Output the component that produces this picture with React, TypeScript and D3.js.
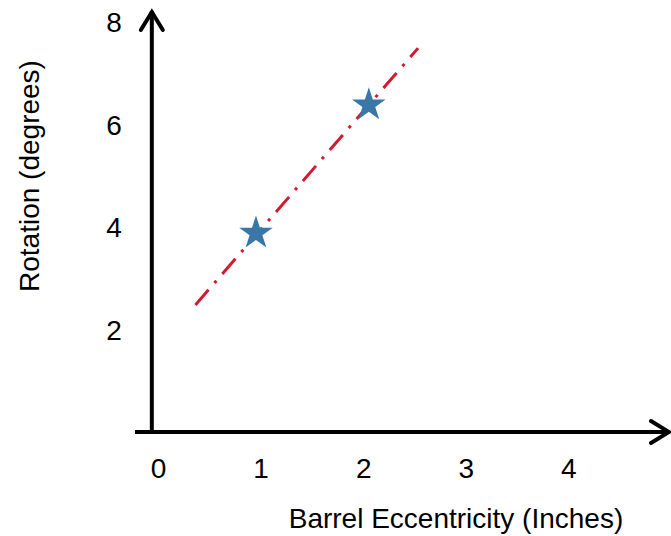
import React, { useEffect, useRef } from "react";
import * as d3 from "d3";

// measured points (eccentricity in inches, rotation in degrees)
const eccentricity = [0.95, 2.05];
const rotation = [3.88, 6.38];
// dash-dot fit line end points
const fitX = [0.36, 2.53];
const fitY = [2.48, 7.49];
const xTicks = [0, 1, 2, 3, 4];
const yTicks = [2, 4, 6, 8];

const width = 671;
const height = 536;

const App = () => {
  const ref = useRef<SVGGElement | null>(null);

  useEffect(() => {
    const g = d3.select(ref.current);
    g.selectAll("*").remove();

    const x = d3.scaleLinear().domain([0, 5]).range([158.5, 671.5]);
    const y = d3.scaleLinear().domain([0, 8]).range([432, 22]);
    const font = "Liberation Sans, Arial, sans-serif";
    const fs = 28;

    const axisX = x(-0.065);
    const axisY = y(0);

    // axes
    g.append("line")
      .attr("x1", axisX).attr("y1", axisY + 1)
      .attr("x2", axisX).attr("y2", 11)
      .attr("stroke", "#000").attr("stroke-width", 4);
    g.append("line")
      .attr("x1", 135).attr("y1", axisY)
      .attr("x2", 669).attr("y2", axisY)
      .attr("stroke", "#000").attr("stroke-width", 4);

    // arrow heads
    g.append("path")
      .attr("d", `M${axisX - 11},${30} L${axisX},${12} L${axisX + 11},${30}`)
      .attr("fill", "none").attr("stroke", "#000")
      .attr("stroke-width", 4).attr("stroke-linecap", "round");
    g.append("path")
      .attr("d", `M${651},${axisY - 11} L${669},${axisY} L${651},${axisY + 11}`)
      .attr("fill", "none").attr("stroke", "#000")
      .attr("stroke-width", 4).attr("stroke-linecap", "round");

    // tick labels
    g.selectAll("text.xt")
      .data(xTicks)
      .enter()
      .append("text")
      .attr("class", "xt")
      .attr("x", d => x(d))
      .attr("y", 478)
      .attr("text-anchor", "middle")
      .attr("font-family", font)
      .attr("font-size", fs)
      .text(d => d);

    g.selectAll("text.yt")
      .data(yTicks)
      .enter()
      .append("text")
      .attr("class", "yt")
      .attr("x", 114)
      .attr("y", d => y(d) + 10)
      .attr("text-anchor", "middle")
      .attr("font-family", font)
      .attr("font-size", fs)
      .text(d => d);

    // axis titles
    g.append("text")
      .attr("x", 456)
      .attr("y", 528)
      .attr("text-anchor", "middle")
      .attr("font-family", font)
      .attr("font-size", fs)
      .text("Barrel Eccentricity (Inches)");
    g.append("text")
      .attr("transform", "translate(39,176) rotate(-90)")
      .attr("text-anchor", "middle")
      .attr("font-family", font)
      .attr("font-size", fs)
      .text("Rotation (degrees)");

    // fit line
    const line = d3.line<number>()
      .x(d => x(fitX[d]))
      .y(d => y(fitY[d]));
    g.append("path")
      .attr("d", line([0, 1]))
      .attr("fill", "none")
      .attr("stroke", "#d31a2f")
      .attr("stroke-width", 3)
      .attr("stroke-dasharray", "20,9,3,9");

    // star markers
    const star = d3.symbol().type(d3.symbolStar).size(350);
    g.selectAll("path.pt")
      .data(eccentricity)
      .enter()
      .append("path")
      .attr("class", "pt")
      .attr("d", star)
      .attr("transform", (d, i) => `translate(${x(d)},${y(rotation[i])})`)
      .attr("fill", "#3b76a8");
  }, []);

  return (
    <svg width={width} height={height} style={{ position: "absolute", left: 0, top: 0 }}>
      <rect width={width} height={height} fill="#fff" />
      <g ref={ref} />
    </svg>
  );
};

export default App;
